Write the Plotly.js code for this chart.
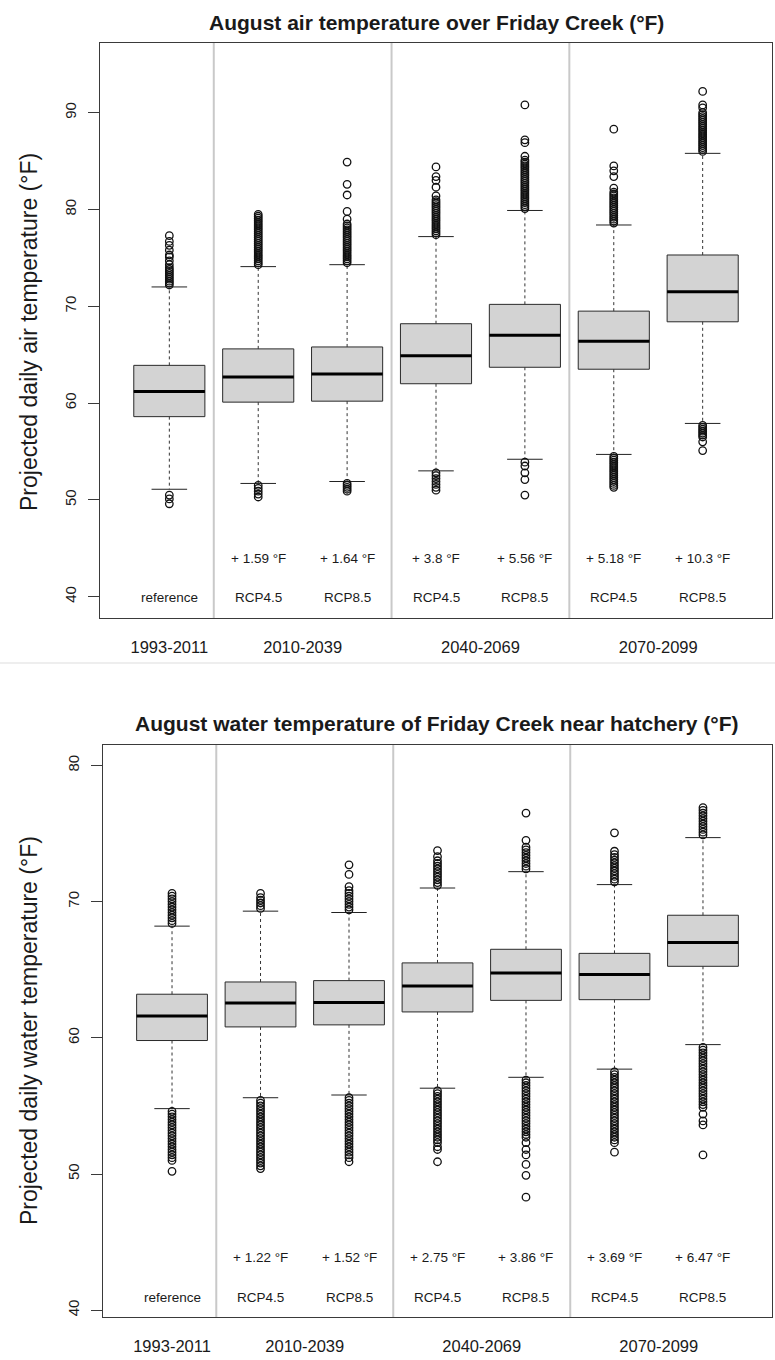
<!DOCTYPE html>
<html>
<head>
<meta charset="utf-8">
<script src="https://cdn.plot.ly/plotly-3.0.1.min.js"></script>
<style>
  html, body { margin: 0; padding: 0; background: #ffffff; }
  #chart { width: 775px; height: 1360px; }
</style>
</head>
<body>
<div id="chart"></div>
<script>
// ---------- data ----------
const positions = [1, 2, 3, 4, 5, 6, 7];
const periodLabels = ['1993-2011', '2010-2039', '2040-2069', '2070-2099'];
const periodPositions = [1, 2.5, 4.5, 6.5];
const scenarioLabels = ['reference', 'RCP4.5', 'RCP8.5', 'RCP4.5', 'RCP8.5', 'RCP4.5', 'RCP8.5'];
const airChange = ['', '+ 1.59 °F', '+ 1.64 °F', '+ 3.8 °F', '+ 5.56 °F', '+ 5.18 °F', '+ 10.3 °F'];
const waterChange = ['', '+ 1.22 °F', '+ 1.52 °F', '+ 2.75 °F', '+ 3.86 °F', '+ 3.69 °F', '+ 6.47 °F'];

// air temperature (°F)
const airLowWhisker = [51.1, 51.7, 51.9, 53.0, 54.2, 54.7, 57.9];
const airQ1 = [58.6, 60.1, 60.2, 62.0, 63.7, 63.5, 68.4];
const airMedian = [61.2, 62.7, 63.0, 64.9, 67.0, 66.4, 71.5];
const airQ3 = [63.9, 65.6, 65.8, 68.2, 70.2, 69.5, 75.3];
const airHighWhisker = [72.0, 74.1, 74.3, 77.2, 79.9, 78.4, 85.8];
const airOutliers = [
  [72.2, 72.4, 72.6, 72.8, 73.0, 73.2, 73.4, 73.6, 73.8, 74.0, 74.3, 74.7, 75.1, 75.3, 75.8, 76.3, 76.7, 77.3, 50.5, 50.1, 49.6],
  [74.3, 74.5, 74.7, 74.9, 75.1, 75.3, 75.5, 75.7, 75.9, 76.1, 76.3, 76.5, 76.7, 76.9, 77.1, 77.3, 77.5, 77.7, 77.9, 78.1, 78.3, 78.5, 78.7, 78.9, 79.1, 79.3, 79.5, 51.5, 51.2, 50.9, 50.6, 50.3],
  [74.5, 74.7, 74.9, 75.1, 75.3, 75.5, 75.7, 75.9, 76.1, 76.3, 76.5, 76.7, 76.9, 77.1, 77.3, 77.5, 77.7, 77.9, 78.1, 78.3, 78.5, 79.0, 79.8, 81.5, 82.6, 84.9, 51.7, 51.5, 51.3, 51.1, 50.9],
  [77.4, 77.6, 77.8, 78.0, 78.2, 78.4, 78.6, 78.8, 79.0, 79.2, 79.4, 79.6, 79.8, 80.0, 80.2, 80.4, 80.6, 80.8, 81.0, 81.4, 82.3, 83.0, 83.4, 84.4, 52.8, 52.5, 52.2, 51.9, 51.6, 51.3, 51.0],
  [80.1, 80.3, 80.5, 80.7, 80.9, 81.1, 81.3, 81.5, 81.7, 81.9, 82.1, 82.3, 82.5, 82.7, 82.9, 83.1, 83.3, 83.5, 83.7, 83.9, 84.1, 84.3, 84.5, 84.7, 84.9, 85.1, 85.5, 86.9, 87.2, 90.8, 53.9, 53.5, 52.8, 52.1, 50.5],
  [78.6, 78.8, 79.0, 79.2, 79.4, 79.6, 79.8, 80.0, 80.2, 80.4, 80.6, 80.8, 81.0, 81.2, 81.4, 81.6, 81.8, 82.2, 83.4, 84.0, 84.5, 88.3, 54.5, 54.3, 54.1, 53.9, 53.7, 53.5, 53.3, 53.1, 52.9, 52.7, 52.5, 52.3, 52.1, 51.9, 51.7, 51.5, 51.3],
  [86.0, 86.2, 86.4, 86.6, 86.8, 87.0, 87.2, 87.4, 87.6, 87.8, 88.0, 88.2, 88.4, 88.6, 88.8, 89.0, 89.2, 89.4, 89.6, 89.8, 90.0, 90.5, 90.8, 92.2, 57.7, 57.5, 57.3, 57.1, 56.9, 56.7, 56.5, 56.0, 55.1]
];

// water temperature (°F)
const waterLowWhisker = [54.8, 55.6, 55.8, 56.3, 57.1, 57.7, 59.5];
const waterQ1 = [59.8, 60.8, 60.95, 61.9, 62.75, 62.8, 65.25];
const waterMedian = [61.6, 62.55, 62.6, 63.8, 64.75, 64.65, 67.0];
const waterQ3 = [63.2, 64.1, 64.2, 65.5, 66.5, 66.2, 69.0];
const waterHighWhisker = [68.2, 69.3, 69.2, 71.0, 72.2, 71.25, 74.7];
const waterOutliers = [
  [68.4, 68.6, 68.8, 69.0, 69.2, 69.4, 69.6, 69.8, 70.0, 70.2, 70.4, 70.6, 54.6, 54.4, 54.2, 54.0, 53.8, 53.6, 53.4, 53.2, 53.0, 52.8, 52.6, 52.4, 52.2, 52.0, 51.8, 51.6, 51.4, 51.2, 51.0, 50.2],
  [69.5, 69.7, 69.9, 70.1, 70.3, 70.6, 55.4, 55.2, 55.0, 54.8, 54.6, 54.4, 54.2, 54.0, 53.8, 53.6, 53.4, 53.2, 53.0, 52.8, 52.6, 52.4, 52.2, 52.0, 51.8, 51.6, 51.4, 51.2, 51.0, 50.8, 50.6, 50.4],
  [69.4, 69.6, 69.8, 70.0, 70.2, 70.4, 70.6, 70.8, 71.1, 72.0, 72.7, 55.6, 55.4, 55.2, 55.0, 54.8, 54.6, 54.4, 54.2, 54.0, 53.8, 53.6, 53.4, 53.2, 53.0, 52.8, 52.6, 52.4, 52.2, 52.0, 51.8, 51.6, 51.4, 51.2, 50.9],
  [71.2, 71.4, 71.6, 71.8, 72.0, 72.2, 72.4, 72.6, 72.8, 73.0, 73.3, 73.75, 56.1, 55.9, 55.7, 55.5, 55.3, 55.1, 54.9, 54.7, 54.5, 54.3, 54.1, 53.9, 53.7, 53.5, 53.3, 53.1, 52.9, 52.7, 52.5, 52.3, 52.0, 51.8, 50.9],
  [72.4, 72.6, 72.8, 73.0, 73.2, 73.4, 73.6, 73.8, 74.0, 74.5, 76.5, 56.9, 56.7, 56.5, 56.3, 56.1, 55.9, 55.7, 55.5, 55.3, 55.1, 54.9, 54.7, 54.5, 54.3, 54.1, 53.9, 53.7, 53.5, 53.3, 53.1, 52.9, 52.7, 52.3, 51.8, 51.4, 50.7, 49.9, 48.3],
  [71.45, 71.65, 71.85, 72.05, 72.25, 72.45, 72.65, 72.85, 73.05, 73.25, 73.45, 73.7, 75.05, 57.5, 57.3, 57.1, 56.9, 56.7, 56.5, 56.3, 56.1, 55.9, 55.7, 55.5, 55.3, 55.1, 54.9, 54.7, 54.5, 54.3, 54.1, 53.9, 53.7, 53.5, 53.3, 53.1, 52.9, 52.7, 52.5, 52.3, 51.6],
  [74.9, 75.1, 75.3, 75.5, 75.7, 75.9, 76.1, 76.3, 76.5, 76.7, 76.9, 59.3, 59.1, 58.9, 58.7, 58.5, 58.3, 58.1, 57.9, 57.7, 57.5, 57.3, 57.1, 56.9, 56.7, 56.5, 56.3, 56.1, 55.9, 55.7, 55.5, 55.3, 55.1, 54.9, 54.4, 53.9, 53.6, 51.4]
];

// ---------- styles ----------
const FONT = 'Liberation Sans, Arial, Helvetica, sans-serif';
const INK = '#1a1a1a';
const FRAME = '#3a3a3a';
const BOXFILL = '#d3d3d3';
const BOXHALF = 0.4;
const CAPHALF = 0.2;

function chartTraces(xa, ya, low, q1, med, q3, high, outliers) {
  const traces = [];
  const wx = [], wy = [];
  const cx = [], cy = [];
  const mx = [], my = [];
  positions.forEach((p, i) => {
    wx.push(p, p, null, p, p, null);
    wy.push(q3[i], high[i], null, q1[i], low[i], null);
    cx.push(p - CAPHALF, p + CAPHALF, null, p - CAPHALF, p + CAPHALF, null);
    cy.push(high[i], high[i], null, low[i], low[i], null);
    mx.push(p - BOXHALF, p + BOXHALF, null);
    my.push(med[i], med[i], null);
  });
  traces.push({
    type: 'scatter', mode: 'lines', x: wx, y: wy, xaxis: xa, yaxis: ya,
    line: { color: '#333333', width: 1, dash: '3px,3px' }, hoverinfo: 'skip', showlegend: false
  });
  traces.push({
    type: 'scatter', mode: 'lines', x: cx, y: cy, xaxis: xa, yaxis: ya,
    line: { color: '#222222', width: 1 }, hoverinfo: 'skip', showlegend: false
  });
  traces.push({
    type: 'box', x: positions, q1: q1, median: med, q3: q3,
    lowerfence: q1, upperfence: q3, width: 2 * BOXHALF,
    xaxis: xa, yaxis: ya, fillcolor: BOXFILL,
    line: { color: '#2a2a2a', width: 1 }, whiskerwidth: 0,
    boxpoints: false, hoverinfo: 'skip', showlegend: false
  });
  traces.push({
    type: 'scatter', mode: 'lines', x: mx, y: my, xaxis: xa, yaxis: ya,
    line: { color: '#000000', width: 3 }, hoverinfo: 'skip', showlegend: false
  });
  const ox = [], oy = [];
  outliers.forEach((arr, i) => arr.forEach(v => { ox.push(positions[i]); oy.push(v); }));
  traces.push({
    type: 'scatter', mode: 'markers', x: ox, y: oy, xaxis: xa, yaxis: ya,
    marker: { symbol: 'circle-open', size: 7.5, color: '#111111', line: { width: 1.3, color: '#111111' } },
    hoverinfo: 'skip', showlegend: false
  });
  return traces;
}

const traces = [].concat(
  chartTraces('x', 'y', airLowWhisker, airQ1, airMedian, airQ3, airHighWhisker, airOutliers),
  chartTraces('x2', 'y2', waterLowWhisker, waterQ1, waterMedian, waterQ3, waterHighWhisker, waterOutliers)
);

// ---------- layout ----------
const W = 775, H = 1360;
const px = v => v / W;
const py = v => (H - v) / H;

function xAxis(domain) {
  return {
    domain: domain, range: [0.22, 7.78], showgrid: false, zeroline: false,
    showline: true, mirror: true, linecolor: FRAME, linewidth: 1,
    tickvals: periodPositions, ticktext: periodLabels, ticks: '',
    ticklabelstandoff: 14,
    tickfont: { family: FONT, size: 16.5, color: INK }, fixedrange: true
  };
}
function yAxis(domain, range, tickvals) {
  return {
    domain: domain, range: range, showgrid: false, zeroline: false,
    showline: true, mirror: true, linecolor: FRAME, linewidth: 1,
    tickvals: tickvals, ticks: 'outside', ticklen: 11, tickcolor: FRAME, tickwidth: 1,
    tickangle: -90, ticklabelstandoff: 6,
    tickfont: { family: FONT, size: 15, color: INK }, fixedrange: true
  };
}

const annotations = [];
function textAnn(x, y, text, xref, yref, size, extra) {
  return Object.assign({
    x: x, y: y, xref: xref, yref: yref, text: text, showarrow: false,
    font: { family: FONT, size: size, color: INK }, xanchor: 'center', yanchor: 'middle'
  }, extra || {});
}
annotations.push(textAnn(px(436), py(22), '<b>August air temperature over Friday Creek (°F)</b>', 'paper', 'paper', 21));
annotations.push(textAnn(px(437), py(723), '<b>August water temperature of Friday Creek near hatchery (°F)</b>', 'paper', 'paper', 21));
annotations.push(textAnn(px(29), py(332), 'Projected daily air temperature (°F)', 'paper', 'paper', 23, { textangle: -90 }));
annotations.push(textAnn(px(29), py(1031), 'Projected daily water temperature (°F)', 'paper', 'paper', 23, { textangle: -90 }));
positions.forEach((p, i) => {
  annotations.push(textAnn(p, 39.9, scenarioLabels[i], 'x', 'y', 13.5));
  annotations.push(textAnn(p, 40.9, scenarioLabels[i], 'x2', 'y2', 13.5));
  if (airChange[i]) annotations.push(textAnn(p, 43.9, airChange[i], 'x', 'y', 13.5));
  if (waterChange[i]) annotations.push(textAnn(p, 43.9, waterChange[i], 'x2', 'y2', 13.5));
});

const shapes = [];
[1.5, 3.5, 5.5].forEach(v => {
  shapes.push({ type: 'line', xref: 'x', yref: 'y domain', x0: v, x1: v, y0: 0, y1: 1, line: { color: '#c9c9c9', width: 2 } });
  shapes.push({ type: 'line', xref: 'x2', yref: 'y2 domain', x0: v, x1: v, y0: 0, y1: 1, line: { color: '#c9c9c9', width: 2 } });
});
shapes.push({ type: 'line', xref: 'paper', yref: 'paper', x0: 0, x1: 1, y0: py(663), y1: py(663), line: { color: '#dddddd', width: 1 } });

const layout = {
  width: W, height: H,
  margin: { l: 0, r: 0, t: 0, b: 0 },
  paper_bgcolor: '#ffffff', plot_bgcolor: '#ffffff',
  showlegend: false,
  font: { family: FONT, color: INK },
  xaxis: Object.assign(xAxis([px(100), px(772)]), { anchor: 'y' }),
  yaxis: Object.assign(yAxis([py(618), py(43)], [37.8, 97.2], [40, 50, 60, 70, 80, 90]), { anchor: 'x' }),
  xaxis2: Object.assign(xAxis([px(103), px(772)]), { anchor: 'y2' }),
  yaxis2: Object.assign(yAxis([py(1317), py(745)], [39.5, 81.5], [40, 50, 60, 70, 80]), { anchor: 'x2' }),
  annotations: annotations,
  shapes: shapes
};

Plotly.newPlot('chart', traces, layout, { staticPlot: true, displayModeBar: false });
</script>
</body>
</html>
